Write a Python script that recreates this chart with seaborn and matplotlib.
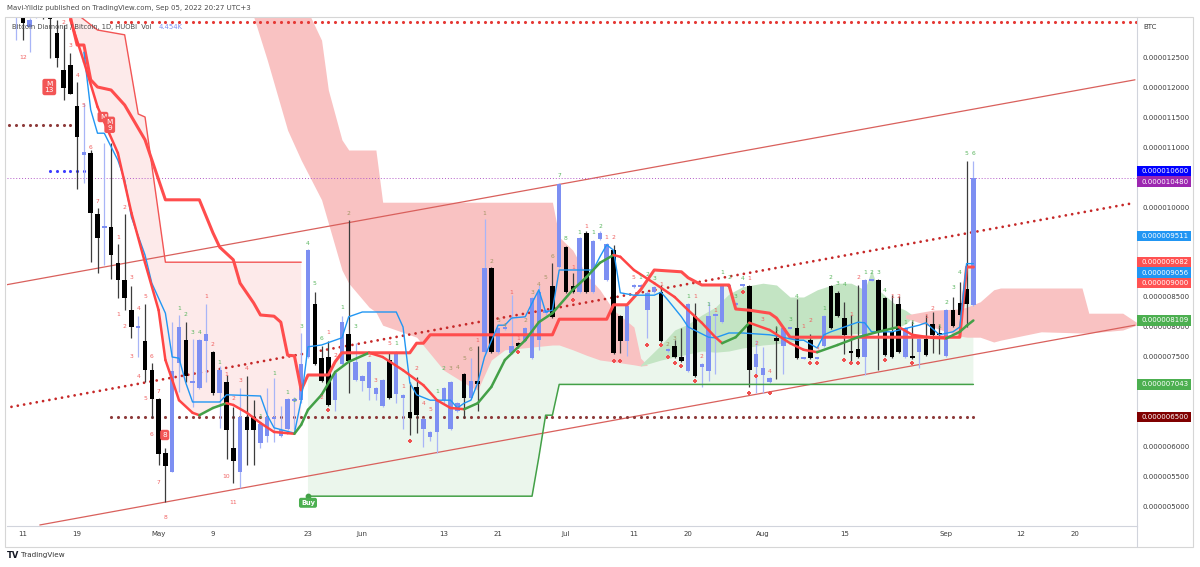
import numpy as np
import matplotlib
matplotlib.use("Agg")
import matplotlib.pyplot as plt
from matplotlib.patches import Rectangle
from matplotlib.lines import Line2D
from matplotlib.transforms import blended_transform_factory
import seaborn as sns

OUT = "out.png"

# prices are in units of 1e-6 BTC, x is the bar number (only traded days get a bar)

opens = [13.20, 13.28, 13.00, 13.20, 13.60, 13.22, 12.90, 12.28, 12.37, 11.68,
         10.87, 10.90, 9.88, 9.65, 9.67, 9.07, 8.78, 8.28, 7.98, 7.77,
         7.28, 6.80, 5.90, 5.58, 7.40, 7.78, 7.07, 6.98, 7.77, 7.58,
         6.90, 7.08, 5.98, 5.58, 6.50, 6.50, 6.07, 6.18, 6.47, 6.18,
         6.30, 6.77, 6.78, 7.50, 8.38, 7.48, 7.50, 6.78, 7.38, 7.88,
         7.12, 7.10, 6.98, 6.88, 6.68, 7.45, 6.88, 6.82, 6.58, 7.00,
         6.30, 6.17, 6.25, 6.78, 6.30, 6.60, 7.22, 6.82, 7.10, 7.58,
         8.98, 7.58, 7.97, 7.57, 7.73, 7.77, 7.48, 7.78, 8.23, 8.68,
         9.00, 9.33, 8.68, 8.58, 9.57, 8.58, 9.47, 8.78, 9.28, 8.18,
         7.77, 8.67, 8.67, 8.28, 8.58, 8.58, 7.60, 7.68, 7.50, 7.27,
         8.18, 7.33, 7.27, 8.18, 8.08, 8.67, 8.37, 8.68, 8.68, 7.33,
         7.20, 7.08, 7.82, 7.68, 7.97, 7.98, 7.47, 7.78, 7.47, 7.68,
         8.68, 8.57, 8.15, 7.60, 7.63, 7.50, 8.77, 8.78, 8.48, 7.92,
         8.38, 7.50, 7.52, 7.58, 7.80, 8.05, 7.88, 7.52, 8.28, 8.40,
         8.63, 8.37]

highs = [13.37, 13.32, 13.15, 13.80, 13.70, 13.30, 13.12, 13.03, 12.57, 12.08,
         11.73, 10.95, 9.98, 11.07, 11.07, 9.38, 9.88, 8.68, 8.18, 8.38,
         7.40, 6.82, 5.98, 8.08, 8.20, 8.08, 7.80, 7.80, 8.38, 7.60,
         7.35, 7.20, 6.67, 6.98, 7.18, 6.78, 6.40, 6.98, 7.15, 6.68,
         6.82, 6.83, 7.90, 9.30, 8.58, 7.68, 7.77, 7.25, 8.18, 9.78,
         7.73, 7.20, 7.43, 7.00, 7.13, 7.58, 7.60, 6.88, 7.08, 7.17,
         6.48, 6.27, 6.80, 7.00, 7.10, 6.75, 7.23, 7.48, 7.68, 9.80,
         9.00, 8.00, 8.02, 8.53, 7.75, 8.00, 8.50, 8.70, 8.30, 9.07,
         10.40, 9.35, 8.90, 9.50, 9.60, 9.45, 9.60, 9.40, 9.37, 8.20,
         8.37, 8.72, 8.72, 8.60, 8.68, 8.70, 7.65, 7.78, 7.98, 8.40,
         8.40, 7.40, 8.42, 8.23, 8.72, 8.70, 8.42, 8.71, 8.70, 7.78,
         7.67, 7.17, 8.02, 8.00, 8.00, 8.47, 7.50, 7.88, 7.50, 8.20,
         8.70, 8.60, 8.42, 8.20, 8.70, 8.80, 8.80, 8.80, 8.50, 8.53,
         8.52, 8.00, 8.10, 7.82, 8.20, 8.25, 8.03, 8.30, 8.50, 8.75,
         10.77, 10.77]

lows = [12.78, 12.78, 12.58, 13.15, 13.13, 12.48, 12.33, 11.78, 11.88, 10.30,
        10.40, 9.08, 8.90, 9.03, 8.80, 8.48, 8.28, 7.82, 7.50, 7.08,
        6.48, 5.70, 5.08, 5.58, 6.92, 7.08, 6.67, 6.96, 7.08, 6.87,
        6.32, 5.80, 5.40, 5.32, 5.70, 5.70, 5.98, 6.08, 6.08, 6.17,
        6.28, 6.30, 6.73, 7.48, 7.37, 7.08, 6.68, 6.60, 7.37, 6.90,
        7.10, 6.93, 6.78, 6.78, 6.67, 6.80, 6.73, 6.30, 6.20, 6.23,
        6.00, 6.10, 5.90, 6.73, 6.28, 6.58, 6.48, 6.80, 6.60, 7.57,
        7.57, 7.57, 7.95, 7.55, 7.65, 7.75, 7.47, 7.62, 8.20, 8.15,
        8.98, 8.57, 8.57, 8.57, 8.57, 8.57, 9.45, 8.77, 7.55, 7.57,
        7.52, 8.65, 8.65, 7.82, 8.57, 7.75, 7.58, 7.48, 7.42, 7.25,
        7.17, 7.00, 7.10, 7.22, 8.07, 8.66, 8.35, 8.67, 7.00, 6.90,
        6.90, 7.07, 7.13, 7.22, 7.96, 7.47, 7.46, 7.47, 7.46, 7.67,
        7.97, 8.17, 7.55, 7.43, 7.48, 7.20, 8.76, 7.28, 7.52, 7.48,
        7.57, 7.48, 7.47, 7.32, 7.52, 7.57, 7.55, 7.50, 8.00, 8.18,
        8.00, 8.35]

closes = [13.37, 13.07, 13.12, 13.60, 13.20, 13.13, 12.48, 11.98, 11.88, 11.17,
          10.92, 9.90, 9.48, 9.68, 9.20, 8.78, 8.48, 8.00, 8.02, 7.28,
          6.80, 5.88, 5.68, 7.27, 8.00, 7.18, 7.10, 7.78, 7.88, 6.90,
          7.28, 6.28, 5.77, 6.50, 6.28, 6.28, 6.38, 6.50, 6.50, 6.28,
          6.80, 6.80, 7.38, 9.28, 7.38, 7.10, 6.70, 7.23, 8.08, 7.43,
          7.42, 7.18, 7.42, 6.98, 7.12, 6.82, 7.58, 6.87, 6.48, 6.53,
          6.47, 6.25, 6.78, 6.98, 7.08, 6.73, 6.82, 7.10, 7.05, 8.98,
          7.58, 7.98, 8.00, 7.68, 7.68, 7.98, 8.48, 8.58, 8.28, 8.17,
          10.38, 8.58, 8.58, 9.48, 8.58, 9.43, 9.57, 9.38, 7.57, 7.77,
          8.35, 8.70, 8.70, 8.57, 8.67, 7.77, 7.63, 7.50, 7.43, 8.38,
          7.18, 7.38, 8.18, 8.22, 8.70, 8.70, 8.40, 8.70, 7.28, 7.55,
          7.32, 7.15, 7.77, 7.98, 8.00, 7.48, 7.50, 7.48, 7.50, 8.18,
          7.98, 8.18, 7.87, 7.57, 7.50, 8.78, 8.80, 7.92, 7.53, 7.50,
          7.58, 7.98, 7.48, 7.80, 7.53, 7.87, 7.87, 8.28, 8.02, 8.20,
          8.38, 10.48]

# date axis (bar where each date falls; 148 and 156 are in the future)
tick_bars = [1, 9, 21, 29, 43, 51, 63, 71, 81, 91, 99, 110, 122, 137, 148, 156]
tick_labels = ["11", "19", "May", "9", "23", "Jun", "13", "21", "Jul",
               "11", "20", "Aug", "15", "Sep", "12", "20"]
price_ticks = [5.0, 5.5, 6.0, 6.5, 7.0, 7.5, 8.0, 8.5, 9.0, 9.5,
               10.0, 10.5, 11.0, 11.5, 12.0, 12.5]

# base line (thick red) and conversion line (blue)
kijun_bar = [8, 9, 10, 11, 12, 14, 16, 19, 22, 27, 29, 30, 32, 33, 35, 36, 38, 39, 40, 41,
             42, 43, 46, 47, 48, 58, 59, 60, 61, 79, 80, 87, 88, 90, 92, 94, 98, 99, 101, 105,
             106, 108, 111, 112, 114, 139, 140, 141]
kijun_val = [13.17, 12.7, 12.7, 12.12, 12.0, 11.95, 11.7, 11.12, 10.12, 10.12,
             9.57, 9.33, 9.12, 8.73, 8.4, 8.2, 8.18, 8.08, 7.53, 7.52,
             6.95, 7.2, 7.2, 7.42, 7.57, 7.57, 7.73, 7.73, 7.87, 7.87,
             8.13, 8.13, 8.37, 8.37, 8.62, 8.95, 8.92, 8.82, 8.7, 8.7,
             8.3, 8.28, 8.23, 8.15, 7.83, 7.83, 9.0, 9.0]

tenkan_bar = [10, 11, 12, 13, 15, 16, 17, 19, 20, 22, 23, 24, 25, 26, 30, 31, 36, 37, 38, 41,
              42, 43, 45, 48, 49, 51, 56, 57, 58, 59, 61, 64, 65, 66, 67, 68, 69, 71, 72, 73,
              75, 76, 77, 78, 79, 80, 85, 86, 87, 88, 89, 91, 94, 95, 96, 98, 99, 102, 103, 105,
              107, 111, 112, 115, 116, 118, 119, 120, 124, 125, 126, 129, 133, 134, 136, 138,
              139, 140, 141]
tenkan_val = [12.58, 11.62, 11.23, 11.23, 10.78, 10.45, 9.83, 9.2, 8.73, 8.23,
              7.5, 7.48, 7.07, 6.75, 6.75, 6.87, 6.85, 6.53, 6.32, 6.23,
              6.78, 7.67, 7.7, 7.82, 8.17, 8.25, 8.25, 8.0, 7.07, 6.87,
              6.78, 6.78, 6.65, 6.73, 6.78, 7.07, 7.5, 8.03, 8.03, 8.15,
              8.17, 8.4, 8.62, 8.25, 8.28, 8.95, 8.95, 9.17, 9.37, 9.28,
              8.57, 8.53, 8.53, 8.58, 8.45, 8.17, 8.0, 7.83, 7.82, 7.9,
              7.9, 7.87, 7.85, 7.78, 7.78, 7.65, 7.87, 7.92, 8.08, 8.07,
              7.92, 7.92, 8.03, 8.07, 7.87, 7.92, 8.0, 9.056, 9.056]

# moving average, red while falling / green while rising
ma_bar = [8, 10, 12, 15, 17, 19, 21, 22, 23, 24, 26, 27, 29, 31, 32, 34, 36, 38, 40, 41,
          42, 43, 45, 47, 49, 52, 54, 57, 60, 62, 64, 66, 68, 70, 72, 75, 77, 79, 82, 84,
          86, 88, 89, 91, 94, 97, 99, 101, 103, 104, 106, 108, 111, 114, 116, 118, 121, 124,
          127, 130, 132, 135, 137, 139, 140, 141]
ma_val = [13.12, 12.42, 11.67, 10.9, 9.9, 9.07, 8.28, 7.45, 7.12, 6.78,
          6.57, 6.53, 6.65, 6.73, 6.7, 6.57, 6.4, 6.25, 6.23, 6.22,
          6.37, 6.62, 6.87, 7.25, 7.42, 7.57, 7.5, 7.28, 7.03, 6.78,
          6.65, 6.63, 6.73, 7.0, 7.45, 7.78, 8.08, 8.23, 8.62, 8.83,
          9.07, 9.2, 9.17, 8.95, 8.73, 8.5, 8.28, 8.07, 7.83, 7.73,
          7.83, 8.07, 7.95, 7.73, 7.62, 7.58, 7.7, 7.83, 7.92, 8.0,
          7.87, 7.82, 7.81, 7.92, 8.02, 8.109]

# trailing stop bands
ub_bar = [8, 12, 16, 18, 19, 22, 42]
ub_val = [13.3, 12.95, 12.87, 11.55, 11.5, 9.08, 9.08]
lb_bar = [43, 76, 77, 78, 79, 80, 141]
lb_val = [5.18, 5.18, 5.83, 6.53, 6.53, 7.043, 7.043]

# cloud
c1_bar = [35, 37, 40, 42, 45, 46, 48, 49, 52, 53, 54, 59, 63, 67, 68, 70, 72, 79, 80, 82,
          84, 86, 88, 91, 92, 93]
c1_top = [13.5, 13.5, 13.5, 13.5, 12.78, 11.95, 11.12, 10.95, 10.95, 10.95,
          10.08, 10.08, 10.08, 10.08, 10.08, 10.08, 10.08, 10.08, 9.5, 9.28,
          8.87, 8.62, 8.28, 8.0, 7.48, 7.36]
c1_bot = [13.17, 12.45, 11.28, 10.78, 10.12, 9.73, 8.95, 8.73, 8.33, 8.25,
          8.03, 7.83, 7.28, 7.0, 6.95, 7.45, 7.62, 7.7, 7.7, 7.62,
          7.53, 7.45, 7.42, 7.37, 7.35, 7.36]
c2_bar = [92, 95, 97, 99, 101, 103, 105, 107, 110, 112, 114, 116, 118, 121, 123, 125, 126,
          127, 130, 131, 132]
c2_top = [7.37, 7.7, 7.95, 8.05, 8.2, 8.33, 8.55, 8.67, 8.73, 8.7, 8.5, 8.5, 8.62, 8.73,
          8.73, 8.62, 8.95, 8.62, 8.33, 8.28, 8.2]
c2_bot = [7.35, 7.45, 7.5, 7.55, 7.6, 7.58, 7.6, 7.65, 7.7, 7.72, 7.75, 7.78, 7.8, 7.85,
          7.88, 7.9, 7.92, 7.95, 8.0, 8.05, 8.15]
c3_bar = [131, 135, 139, 140, 142, 144, 145, 151, 157, 158, 163, 165]
c3_top = [8.2, 8.28, 8.3, 8.33, 8.42, 8.62, 8.65, 8.65, 8.65, 8.23, 8.23, 8.08]
c3_bot = [8.15, 8.0, 7.85, 7.83, 7.83, 7.75, 7.78, 7.92, 7.9, 7.9, 7.95, 8.03]

# drawn channel
chan_bar = [-1.6, 164.8]
chan_top = [8.7, 12.12]
chan_mid = [6.65, 10.07]
chan_low_bar = [3.5, 164.8]
chan_low = [4.7, 8.03]

# dotted levels
level_price = [13.08, 11.37, 10.6, 6.5]
level_start = [14, -1, 5, 14]
level_end = [165, 8, 10, 141]
level_color = ["#e53935", "#8e3b3b", "#3d3dff", "#8e3b3b"]

# sequential counts
td_bar = [1, 7, 8, 9, 10, 11, 12, 16, 15, 17, 15, 18, 19, 16, 17, 18, 20, 19, 21, 20,
          21, 22, 24, 25, 26, 27, 28, 29, 30, 31, 32, 31, 32, 33, 34, 36, 38, 40, 41, 42,
          43, 44, 45, 46, 45, 47, 48, 49, 50, 52, 53, 55, 56, 57, 59, 60, 61, 62, 63, 64,
          65, 66, 67, 68, 69, 70, 71, 72, 73, 74, 75, 76, 77, 78, 79, 80, 81, 82, 83, 84,
          85, 86, 87, 88, 91, 92, 93, 94, 95, 96, 97, 99, 100, 101, 102, 103, 104, 105, 106, 107,
          108, 109, 110, 111, 112, 114, 115, 116, 117, 118, 119, 120, 121, 122, 123, 124, 125, 126, 127, 128,
          129, 130, 131, 132, 134, 135, 136, 137, 138, 139, 140, 141]
td_price = [12.5, 13.08, 12.7, 12.2, 11.7, 11.0, 10.1, 10.0, 9.5, 8.82, 8.2, 8.3, 8.5, 8.0, 7.5, 7.18, 7.5, 6.8, 6.92, 6.2,
            5.4, 4.82, 8.3, 8.2, 7.9, 7.9, 8.5, 7.7, 7.4, 7.2, 6.8, 5.5, 5.08, 7.1, 7.3, 6.5, 7.22, 6.9, 6.78, 8.0,
            9.4, 8.72, 7.8, 7.9, 6.82, 7.52, 8.32, 9.9, 8.0, 7.53, 7.1, 7.72, 7.72, 7.0, 7.3, 6.72, 6.62, 6.92, 7.3, 7.3,
            7.33, 7.48, 7.62, 7.78, 9.9, 9.1, 8.1, 8.02, 8.58, 7.8, 8.1, 8.58, 8.7, 8.82, 9.18, 10.52, 9.48, 9.0, 9.58, 9.68,
            9.58, 9.68, 9.5, 9.5, 8.82, 8.82, 8.88, 8.8, 8.7, 7.7, 7.8, 8.5, 8.5, 7.5, 8.38, 8.27, 8.9, 8.82, 8.5, 8.8,
            8.8, 7.73, 8.12, 7.25, 7.95, 8.12, 8.5, 8.0, 8.1, 7.63, 8.3, 8.82, 8.72, 8.7, 8.2, 8.82, 8.9, 8.9, 8.9, 8.6,
            8.5, 8.5, 8.08, 8.08, 8.17, 8.3, 8.0, 8.4, 8.65, 8.9, 10.9, 10.9]
td_text = ["12", "2", "3", "4", "5", "6", "7", "2", "1", "3", "1", "4", "5", "2", "3", "4", "6", "5", "7", "6",
           "7", "8", "1", "2", "3", "4", "1", "2", "1", "1", "2", "10", "11", "3", "4", "1", "1", "1", "2", "3",
           "4", "5", "6", "1", "2", "2", "1", "2", "3", "2", "3", "5", "1", "1", "2", "4", "5", "1", "2", "3",
           "4", "5", "6", "1", "1", "2", "3", "4", "1", "1", "2", "3", "4", "5", "6", "7", "8", "1", "1", "1",
           "1", "2", "1", "2", "5", "1", "2", "3", "1", "2", "3", "1", "1", "2", "1", "1", "1", "2", "3", "4",
           "1", "2", "3", "4", "1", "3", "4", "1", "2", "3", "1", "2", "3", "4", "1", "2", "1", "2", "3", "4",
           "1", "2", "1", "1", "1", "2", "1", "2", "3", "4", "5", "6"]
td_kind = ["r", "r", "r", "r", "r", "r", "r", "r", "r", "r", "r", "r", "r", "r", "r", "r", "r", "r", "r", "r",
           "r", "r", "g", "g", "g", "g", "r", "r", "g", "r", "r", "r", "r", "r", "r", "g", "g", "g", "g", "g",
           "g", "g", "g", "r", "r", "r", "g", "o", "g", "r", "r", "r", "g", "r", "r", "r", "r", "g", "g", "o",
           "o", "o", "o", "r", "o", "o", "o", "o", "r", "r", "o", "o", "o", "o", "o", "g", "g", "r", "g", "r",
           "g", "g", "r", "r", "r", "g", "g", "g", "r", "o", "o", "g", "r", "r", "g", "r", "g", "g", "g", "g",
           "r", "r", "r", "r", "g", "g", "g", "r", "r", "r", "g", "g", "g", "g", "r", "r", "g", "g", "g", "g",
           "r", "r", "g", "g", "r", "r", "g", "g", "g", "g", "g", "g"]

plus_bar = [46, 58, 74, 82, 88, 89, 93, 95, 96, 97, 98, 100, 107, 108, 109, 111, 117, 118,
            122, 123, 124, 128, 132]
plus_price = [6.62, 6.1, 7.58, 8.45, 7.43, 7.43, 7.7, 7.7, 7.5, 7.4, 7.35, 7.1, 8.58, 6.9,
              7.18, 6.9, 7.4, 7.4, 7.45, 7.4, 7.4, 7.45, 7.4]

# signal flags
sig_text = ["M", "M\n9", "M\n13", "8"]
sig_bar = [12.8, 13.8, 4.9, 21.9]
sig_price = [11.5, 11.37, 12.0, 6.2]
buy_bar = 43
buy_price = 5.07

# price scale tags
tag_vals = [10.6, 10.48, 9.511, 9.082, 9.056, 9.0, 8.109, 7.043, 6.5]
tag_colors = ["#0000ff", "#9c27b0", "#2196f3", "#ff5252", "#2196f3", "#ff5252",
              "#4caf50", "#4caf50", "#800000"]

UP = "#7d8ff2"
UP_WICK = "#a8b5f7"
DOWN_WICK = "#3c3c3c"
TD_COL = {"g": "#5cb660", "r": "#f06262", "o": "#a39565"}
TAG_GAP = 0.175


def price_fmt(v):
    return f"{v * 1e-6:.9f}"


def main():
    sns.set_theme(style="white")
    plt.rcParams["font.family"] = ["DejaVu Sans"]

    fig = plt.figure(figsize=(12, 5.67), dpi=100)
    ax = fig.add_axes([7 / 1200, 41 / 567, 1130 / 1200, 509 / 567])
    ax.set_xlim(-1.33, 165.1)
    ax.set_ylim(4.683, 13.167)

    # shaded bands
    mb = np.array(ma_bar)
    mv = np.array(ma_val)
    sel = (mb >= ub_bar[0]) & (mb <= ub_bar[-1])
    ax.fill(list(ub_bar) + list(mb[sel][::-1]), list(ub_val) + list(mv[sel][::-1]),
            color="#fdeaea", lw=0, zorder=0.5)

    kb = np.array(kijun_bar)
    kv = np.array(kijun_val)
    sel = (kb >= lb_bar[0]) & (kb <= lb_bar[-1])
    ax.fill(list(lb_bar) + list(kb[sel][::-1]), list(lb_val) + list(kv[sel][::-1]),
            color="#ebf6ec", lw=0, zorder=0.5)

    ax.fill_between(c1_bar, c1_bot, c1_top, color="#f9c2c2", lw=0, zorder=0.6)
    ax.fill_between(c2_bar, c2_bot, c2_top, color="#c3e4c3", lw=0, zorder=0.6)
    ax.fill_between(c3_bar, c3_bot, c3_top, color="#f9c2c2", lw=0, zorder=0.6)

    # channel
    sns.lineplot(x=chan_bar, y=chan_top, ax=ax, color="#d9605c", lw=0.9,
                 sort=False, estimator=None, zorder=2)
    sns.lineplot(x=chan_low_bar, y=chan_low, ax=ax, color="#d9605c", lw=0.9,
                 sort=False, estimator=None, zorder=2)
    ax.plot(chan_bar, chan_mid, color="#c62828", lw=2.0, linestyle=(0, (0.01, 2.3)),
            dash_capstyle="round", zorder=2)

    # dotted levels, one dot per bar
    for y, b0, b1, col in zip(level_price, level_start, level_end, level_color):
        xs = np.arange(b0, b1 + 1)
        ax.scatter(xs, np.full(len(xs), y), s=5, color=col, lw=0, zorder=2.2)

    ax.axhline(closes[-1], color="#b45cc8", lw=0.7, ls=(0, (1, 2)), zorder=2)

    # candles
    o = np.array(opens)
    c = np.array(closes)
    h = np.array(highs)
    lo = np.array(lows)
    bars = np.arange(len(o))
    up = c >= o
    body_lo = np.minimum(o, c)
    body_h = np.maximum(np.abs(c - o), 0.035)
    ax.vlines(bars[up], lo[up], h[up], color=UP_WICK, lw=0.9, zorder=3)
    ax.vlines(bars[~up], lo[~up], h[~up], color=DOWN_WICK, lw=0.9, zorder=3)
    ax.bar(bars[up], body_h[up], bottom=body_lo[up], width=0.66, color=UP, lw=0, zorder=3.1)
    ax.bar(bars[~up], body_h[~up], bottom=body_lo[~up], width=0.66, color="black", lw=0, zorder=3.1)

    # indicator lines
    sns.lineplot(x=ub_bar, y=ub_val, ax=ax, color="#f25555", lw=1.0,
                 sort=False, estimator=None, zorder=4)
    sns.lineplot(x=lb_bar, y=lb_val, ax=ax, color="#43a047", lw=1.1,
                 sort=False, estimator=None, zorder=4)
    sns.lineplot(x=tenkan_bar, y=tenkan_val, ax=ax, color="#2196f3", lw=1.0,
                 sort=False, estimator=None, zorder=4.2)
    sns.lineplot(x=kijun_bar, y=kijun_val, ax=ax, color="#ff4d4d", lw=2.2,
                 sort=False, estimator=None, zorder=4.1)
    for i in range(len(ma_bar) - 1):
        col = "#43a047" if ma_val[i + 1] > ma_val[i] else "#ff4545"
        ax.plot(ma_bar[i:i + 2], ma_val[i:i + 2], color=col, lw=1.8,
                solid_capstyle="round", zorder=4.3)

    # counts and marks
    for b, p, t, k in zip(td_bar, td_price, td_text, td_kind):
        ax.text(b, p, t, color=TD_COL[k], fontsize=4.3, ha="center", va="center", zorder=5)
    sns.scatterplot(x=plus_bar, y=plus_price, ax=ax, marker="P", s=9, color="#f05050",
                    linewidth=0, zorder=5, legend=False)

    for t, b, p in zip(sig_text, sig_bar, sig_price):
        ax.text(b, p, t, color="white", fontsize=5.3, ha="center", va="center",
                linespacing=1.0, zorder=5.5,
                bbox=dict(boxstyle="round,pad=0.3", fc="#f25555", ec="none"))
    ax.scatter([buy_bar], [lb_val[0]], s=10, color="#43a047", zorder=5)
    ax.text(buy_bar, buy_price, "Buy", color="white", fontsize=4.8, fontweight="bold",
            ha="center", va="center", zorder=5.5,
            bbox=dict(boxstyle="round,pad=0.3", fc="#4caf50", ec="none"))

    # tag positions on the price scale (stacked where they collide)
    tag_y = {}
    last = None
    for i in np.argsort(tag_vals)[::-1]:
        y = tag_vals[i]
        if last is not None and last - y < TAG_GAP:
            y = last - TAG_GAP
        last = y
        tag_y[i] = y

    # axes
    ax.yaxis.tick_right()
    ax.set_yticks(price_ticks)
    covered = [any(abs(v - y) < 0.1 for y in tag_y.values()) for v in price_ticks]
    ax.set_yticklabels(["" if cv else price_fmt(v) for v, cv in zip(price_ticks, covered)])
    ax.tick_params(axis="y", length=0, pad=4.3, labelsize=5, labelcolor="#3b3b3b")
    ax.set_xticks(tick_bars)
    ax.set_xticklabels(tick_labels)
    ax.tick_params(axis="x", length=0, pad=3.6, labelsize=5, labelcolor="#3b3b3b")
    for s in ["top", "left"]:
        ax.spines[s].set_visible(False)
    for s in ["right", "bottom"]:
        ax.spines[s].set_color("#d1d4dc")
        ax.spines[s].set_linewidth(0.8)

    tr = blended_transform_factory(ax.transAxes, ax.transData)
    for i, y in tag_y.items():
        ax.add_patch(Rectangle((1.0, y - 0.085), 54 / 1130, 0.17, transform=tr,
                               facecolor=tag_colors[i], edgecolor="none",
                               clip_on=False, zorder=6))
        ax.text(1.0 + 5 / 1130, y, price_fmt(tag_vals[i]), transform=tr, color="white",
                fontsize=5, ha="left", va="center", zorder=7, clip_on=False)
    ax.text(1.0 + 6 / 1130, 13.0, "BTC", transform=tr, color="#3b3b3b", fontsize=5,
            ha="left", va="center", clip_on=False)

    # frame and texts
    fig.add_artist(Rectangle((5 / 1200, 20 / 567), 1188 / 1200, 530 / 567,
                             transform=fig.transFigure, fill=False,
                             ec="#d6d6d6", lw=0.8))
    fig.add_artist(Line2D([1137 / 1200, 1137 / 1200], [20 / 567, 41 / 567],
                          transform=fig.transFigure, color="#d1d4dc", lw=0.8))

    fig.text(7 / 1200, 1 - 8 / 567,
             "Mavi-Yildiz published on TradingView.com, Sep 05, 2022 20:27 UTC+3",
             fontsize=5.0, color="#4a4a4a", va="center")
    fig.text(12 / 1200, 1 - 27 / 567, "Bitcoin Diamond / Bitcoin, 1D, HUOBI  Vol",
             fontsize=4.9, color="#4a4a4a", va="center")
    fig.text(159 / 1200, 1 - 27 / 567, "4.454K", fontsize=4.9, color="#7d8ff2", va="center")
    fig.text(7 / 1200, 12 / 567, "TV", fontsize=6, fontweight="bold", color="#131722",
             va="center")
    fig.text(21 / 1200, 12 / 567, "TradingView", fontsize=5.2, color="#333333", va="center")

    fig.savefig(OUT, dpi=100)
    plt.close(fig)


if __name__ == "__main__":
    main()
